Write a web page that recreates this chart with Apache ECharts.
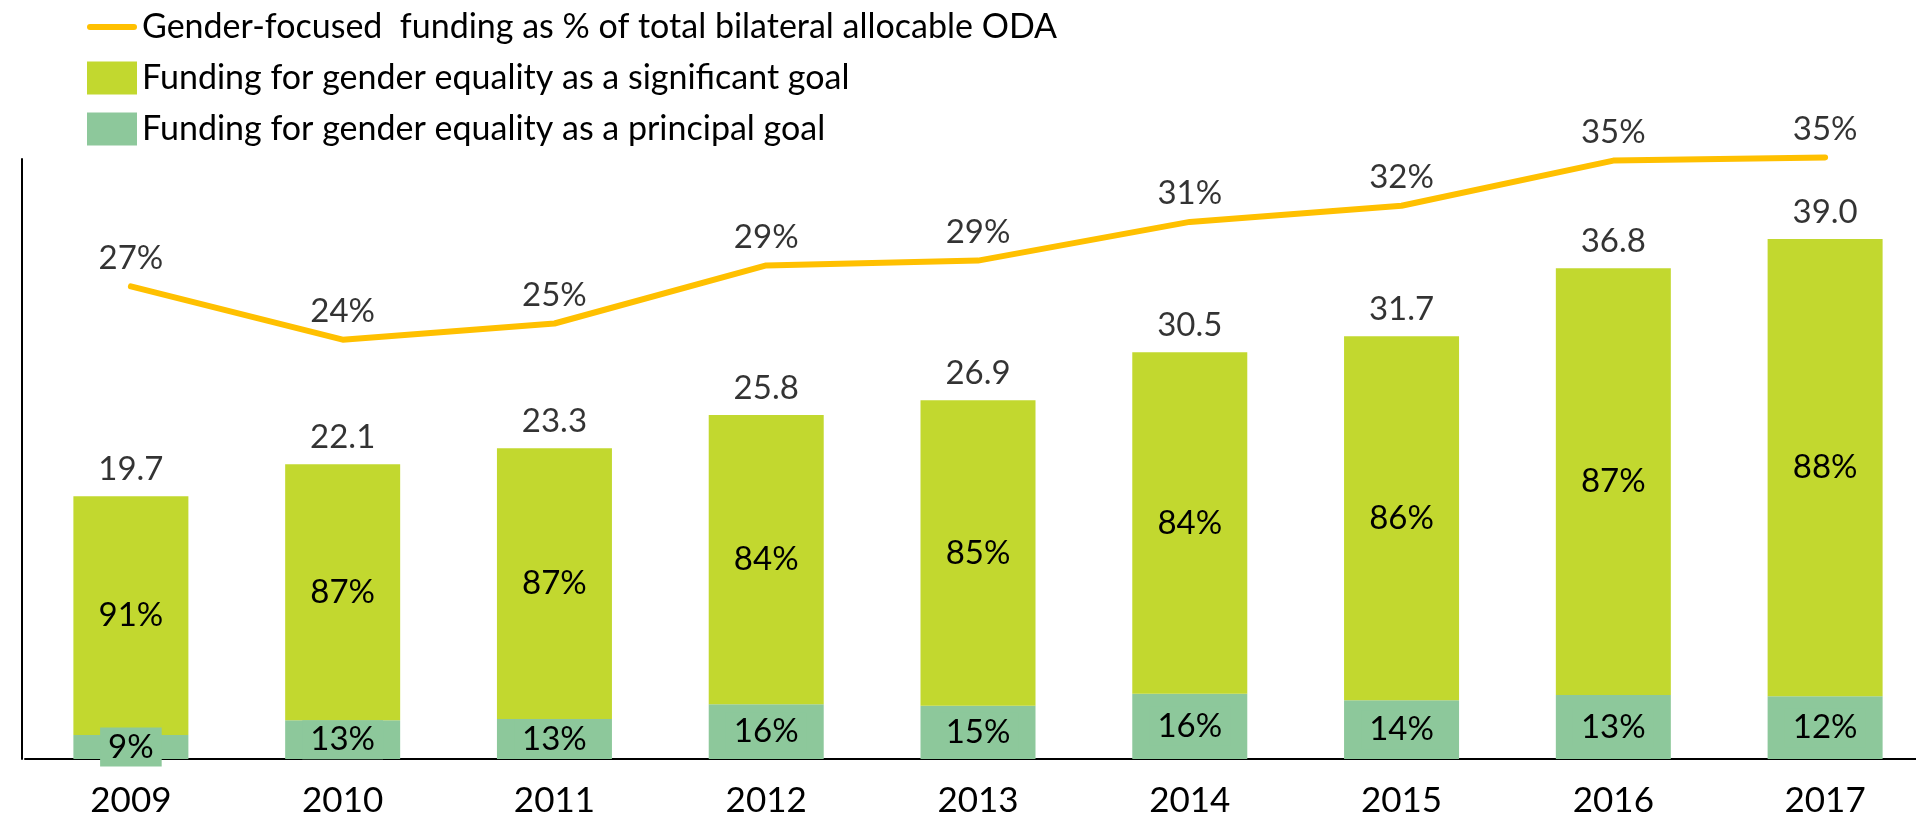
<!DOCTYPE html>
<html>
<head>
<meta charset="utf-8">
<style>
  html, body { margin: 0; padding: 0; background: #fff; }
  #chart { width: 1916px; height: 816px; }
</style>
<script src="https://cdn.jsdelivr.net/npm/echarts@6/dist/echarts.min.js"></script>
</head>
<body>
<div id="chart"></div>
<script>
// years on the x axis
const years = ['2009', '2010', '2011', '2012', '2013', '2014', '2015', '2016', '2017'];
// total gender-focused funding, USD billion (label above each bar)
const totals = [19.7, 22.1, 23.3, 25.8, 26.9, 30.5, 31.7, 36.8, 39.0];
// principal goal part of the bar (USD billion)
const principal = [1.8, 2.9, 3.0, 4.1, 4.0, 4.9, 4.4, 4.8, 4.7];
// significant goal part of the bar
const significant = [17.9, 19.2, 20.3, 21.7, 22.9, 25.6, 27.3, 32.0, 34.3];
// shares printed inside the bars
const principalShare = [9, 13, 13, 16, 15, 16, 14, 13, 12];
const significantShare = [91, 87, 87, 84, 85, 84, 86, 87, 88];
// gender-focused funding as % of total bilateral allocable ODA
const odaShare = [27.3, 24.0, 25.0, 28.6, 28.9, 31.3, 32.3, 35.1, 35.3];

const FONT = 'Lato';
const TXT = '#000';
const LINE_NAME = 'Gender-focused  funding as % of total bilateral allocable ODA';
const SIG_NAME = 'Funding for gender equality as a significant goal';
const PRI_NAME = 'Funding for gender equality as a principal goal';

const valueLabel = {
	show: true,
	fontFamily: FONT,
	fontSize: 33,
	color: TXT
};

const myChart = echarts.init(document.getElementById('chart'));
const option = {
	animation: false,
	textStyle: { fontFamily: FONT },
	legend: {
		orient: 'vertical',
		left: 82,
		top: 5,
		itemWidth: 50,
		itemHeight: 33,
		itemGap: 17,
		textStyle: { fontFamily: FONT, fontSize: 34, color: TXT },
		data: [
			{ name: LINE_NAME, icon: 'path://M3,0 L47,0 A3,3 0 0 1 47,6 L3,6 A3,3 0 0 1 3,0 Z' },
			{ name: SIG_NAME, icon: 'rect' },
			{ name: PRI_NAME, icon: 'rect' }
		]
	},
	grid: { left: 25, top: 159, width: 1906, height: 600, outerBoundsMode: 'none' },
	xAxis: {
		type: 'category',
		data: years,
		axisLine: { lineStyle: { color: '#000', width: 2 } },
		axisTick: { show: false },
		axisLabel: { fontFamily: FONT, fontSize: 35, color: TXT, margin: 24 }
	},
	yAxis: [{
		type: 'value',
		min: 0,
		max: 45,
		offset: 3,
		splitLine: { show: false },
		axisLabel: { show: false },
		axisTick: { show: false },
		axisLine: { show: true, lineStyle: { color: '#000', width: 2 } }
	}, {
		type: 'value',
		min: -2,
		max: 35.2,
		show: false,
		splitLine: { show: false }
	}],
	series: [{
		name: PRI_NAME,
		type: 'bar',
		stack: 'total',
		barWidth: 115,
		data: principal,
		itemStyle: { color: '#8DC89B' },
		label: Object.assign({}, valueLabel, {
			position: 'inside',
			backgroundColor: '#8DC89B',
			padding: [3, 8],
			formatter: (p) => principalShare[p.dataIndex] + '%'
		})
	}, {
		name: SIG_NAME,
		type: 'bar',
		stack: 'total',
		data: significant,
		itemStyle: { color: '#C2D82F' },
		label: Object.assign({}, valueLabel, {
			position: 'inside',
			formatter: (p) => significantShare[p.dataIndex] + '%'
		})
	}, {
		name: 'totals',
		type: 'scatter',
		data: totals,
		symbolSize: 0,
		silent: true,
		label: Object.assign({}, valueLabel, {
			position: 'top',
			distance: 10,
			formatter: (p) => p.value.toFixed(1)
		})
	}, {
		name: LINE_NAME,
		type: 'line',
		yAxisIndex: 1,
		data: odaShare,
		symbol: 'none',
		clip: false,
		lineStyle: { color: '#FFC000', width: 6, cap: 'round' },
		itemStyle: { color: '#FFC000' }
	}, {
		name: 'oda labels',
		type: 'scatter',
		yAxisIndex: 1,
		data: odaShare,
		symbolSize: 0,
		silent: true,
		clip: false,
		label: Object.assign({}, valueLabel, {
			position: 'top',
			distance: 12,
			formatter: (p) => Math.round(p.value) + '%'
		})
	}]
};

myChart.setOption(option);
</script>
</body>
</html>
